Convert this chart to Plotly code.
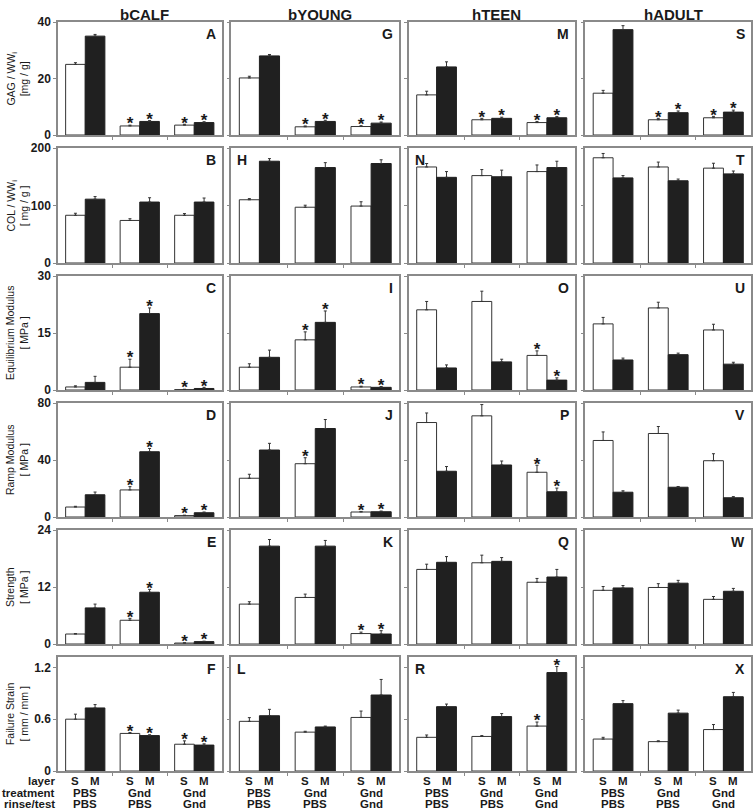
import plotly.graph_objects as go
from plotly.subplots import make_subplots

# Columnas (grupos de edad) y categorias del eje x
COLUMNS = ["bCALF", "bYOUNG", "hTEEN", "hADULT"]
LAYERS = ["S", "M"]
TREATMENT = ["PBS", "Gnd", "Gnd"]
RINSE = ["PBS", "PBS", "Gnd"]
ROW_LABELS = ["layer", "treatment", "rinse/test"]

PANEL_LETTERS = [
    ["A", "G", "M", "S"],
    ["B", "H", "N", "T"],
    ["C", "I", "O", "U"],
    ["D", "J", "P", "V"],
    ["E", "K", "Q", "W"],
    ["F", "L", "R", "X"],
]
LEFT_LETTERS = {"H", "N", "L", "R"}

Y_TITLES = [
    "GAG / WW<sub>i</sub><br>[mg / g]",
    "COL / WW<sub>i</sub><br>[ mg / g ]",
    "Equilibrium Modulus<br>[ MPa ]",
    "Ramp Modulus<br>[ MPa ]",
    "Strength<br>[ MPa ]",
    "Failure Strain<br>[ mm / mm ]",
]
Y_RANGES = [[0, 40], [0, 200], [0, 30], [0, 80], [0, 24], [0, 1.32]]
Y_TICKS = [[0, 20, 40], [0, 100, 200], [0, 15, 30], [0, 40, 80], [0, 12, 24], [0, 0.6, 1.2]]

# Datos: una lista por columna (bCALF, bYOUNG, hTEEN, hADULT), 3 grupos cada una
GAG_S = [[25.0, 3.2, 3.5], [20.2, 2.9, 3.0], [14.2, 5.4, 4.4], [14.8, 5.4, 6.1]]
GAG_S_ERR = [[0.6, 0.3, 0.3], [0.6, 0.3, 0.3], [1.3, 0.5, 0.4], [1.0, 0.5, 0.5]]
GAG_M = [[35.0, 4.8, 4.4], [28.0, 4.8, 4.2], [24.1, 5.9, 6.1], [37.3, 7.9, 8.1]]
GAG_M_ERR = [[0.6, 0.3, 0.3], [0.5, 0.4, 0.4], [1.8, 0.4, 0.4], [1.4, 0.6, 0.7]]
GAG_S_STAR = [[0, 1, 1], [0, 1, 1], [0, 1, 1], [0, 1, 1]]
GAG_M_STAR = [[0, 1, 1], [0, 1, 1], [0, 1, 1], [0, 1, 1]]

COL_S = [[83, 74, 83], [110, 97, 99], [167, 152, 159], [183, 167, 165]]
COL_S_ERR = [[3.5, 3, 3], [2, 3.5, 7.5], [6, 10.5, 11.5], [7.5, 8.5, 8.5]]
COL_M = [[111, 106, 106], [177, 166, 173], [149, 150, 166], [148, 143, 155]]
COL_M_ERR = [[4.5, 7.5, 7], [4.5, 8.5, 6.5], [10, 11.5, 11], [4, 3, 5]]
COL_S_STAR = [[0, 0, 0], [0, 0, 0], [0, 0, 0], [0, 0, 0]]
COL_M_STAR = [[0, 0, 0], [0, 0, 0], [0, 0, 0], [0, 0, 0]]

EQ_S = [[0.8, 6.0, 0.1], [6.0, 13.2, 0.8], [21.1, 23.3, 9.1], [17.4, 21.6, 15.8]]
EQ_S_ERR = [[0.3, 2.1, 0.1], [0.9, 2.1, 0.2], [2.2, 2.7, 1.2], [1.7, 1.5, 1.5]]
EQ_M = [[2.0, 20.1, 0.4], [8.6, 17.8, 0.7], [5.8, 7.4, 2.6], [7.9, 9.3, 6.8]]
EQ_M_ERR = [[1.6, 1.5, 0.3], [1.9, 3.0, 0.2], [0.8, 0.7, 0.6], [0.5, 0.4, 0.5]]
EQ_S_STAR = [[0, 1, 1], [0, 1, 1], [0, 0, 1], [0, 0, 0]]
EQ_M_STAR = [[0, 1, 1], [0, 1, 1], [0, 0, 1], [0, 0, 0]]

RAMP_S = [[7.0, 19.0, 1.0], [27.2, 37.4, 3.5], [66.3, 71.0, 31.4], [53.7, 58.6, 39.5]]
RAMP_S_ERR = [[0.5, 2.3, 0.3], [2.8, 4.2, 0.4], [6.7, 7.9, 4.9], [6.0, 4.9, 4.9]]
RAMP_M = [[15.6, 45.8, 3.0], [47.0, 62.1, 3.7], [32.1, 36.5, 17.7], [17.4, 20.9, 13.5]]
RAMP_M_ERR = [[1.9, 2.3, 0.5], [4.7, 6.3, 0.5], [3.3, 2.8, 2.6], [1.0, 0.5, 0.8]]
RAMP_S_STAR = [[0, 1, 1], [0, 1, 1], [0, 0, 1], [0, 0, 0]]
RAMP_M_STAR = [[0, 1, 1], [0, 0, 1], [0, 0, 1], [0, 0, 0]]

STR_S = [[2.1, 5.0, 0.2], [8.4, 9.8, 2.2], [15.7, 17.1, 13.0], [11.3, 11.9, 9.4]]
STR_S_ERR = [[0.1, 0.4, 0.05], [0.5, 0.7, 0.3], [1.1, 1.6, 0.8], [0.8, 0.8, 0.6]]
STR_M = [[7.6, 10.9, 0.5], [20.6, 20.6, 2.1], [17.2, 17.4, 14.1], [11.8, 12.8, 11.1]]
STR_M_ERR = [[0.8, 0.6, 0.1], [1.4, 1.2, 0.7], [1.2, 0.8, 1.6], [0.5, 0.6, 0.6]]
STR_S_STAR = [[0, 1, 1], [0, 0, 1], [0, 0, 0], [0, 0, 0]]
STR_M_STAR = [[0, 1, 1], [0, 0, 1], [0, 0, 0], [0, 0, 0]]

STRAIN_S = [[0.60, 0.435, 0.31], [0.575, 0.45, 0.62], [0.39, 0.40, 0.52], [0.37, 0.34, 0.48]]
STRAIN_S_ERR = [[0.058, 0.01, 0.039], [0.043, 0.01, 0.074], [0.027, 0.01, 0.047], [0.02, 0.01, 0.058]]
STRAIN_M = [[0.73, 0.41, 0.30], [0.64, 0.51, 0.88], [0.745, 0.63, 1.14], [0.78, 0.67, 0.86]]
STRAIN_M_ERR = [[0.039, 0.01, 0.015], [0.074, 0.01, 0.18], [0.03, 0.035, 0.07], [0.035, 0.035, 0.05]]
STRAIN_S_STAR = [[0, 1, 1], [0, 0, 0], [0, 0, 1], [0, 0, 0]]
STRAIN_M_STAR = [[0, 1, 1], [0, 0, 0], [0, 0, 1], [0, 0, 0]]

MEASURES = [
    (GAG_S, GAG_S_ERR, GAG_M, GAG_M_ERR, GAG_S_STAR, GAG_M_STAR),
    (COL_S, COL_S_ERR, COL_M, COL_M_ERR, COL_S_STAR, COL_M_STAR),
    (EQ_S, EQ_S_ERR, EQ_M, EQ_M_ERR, EQ_S_STAR, EQ_M_STAR),
    (RAMP_S, RAMP_S_ERR, RAMP_M, RAMP_M_ERR, RAMP_S_STAR, RAMP_M_STAR),
    (STR_S, STR_S_ERR, STR_M, STR_M_ERR, STR_S_STAR, STR_M_STAR),
    (STRAIN_S, STRAIN_S_ERR, STRAIN_M, STRAIN_M_ERR, STRAIN_S_STAR, STRAIN_M_STAR),
]

# Geometria (pixeles)
W, H = 755, 811
ML, MR, MT, MB = 58, 2, 22, 40
PW, PH = W - ML - MR, H - MT - MB
COL_PX = [(58, 222), (232, 400), (410, 576), (587, 753)]
ROW_PX = [(22, 135), (148, 263), (276, 390), (403, 517), (530, 644), (657, 771)]

BAR_W = 0.36
FONT = "Liberation Sans, Arial, sans-serif"
TXT = "#1a1a1a"
BORDER = "#8a8a8a"
DARK = "#202020"
LABEL_SIZE = 11.5
LINE_STEP = 11.5


def px_x(p):
    return (p - ML) / PW


def px_y(p):
    return (H - MB - p) / PH


fig = make_subplots(rows=6, cols=4)
groups = list(range(3))
xs_s = [g - BAR_W / 2 for g in groups]
xs_m = [g + BAR_W / 2 for g in groups]

annotations = []
for r, (ms, es, mm, em, ss, sm) in enumerate(MEASURES):
    for c in range(4):
        n = r * 4 + c + 1
        sfx = "" if n == 1 else str(n)
        # Barras S (blancas) y M (negras)
        fig.add_trace(go.Bar(
            x=xs_s, y=ms[c], width=BAR_W,
            marker=dict(color="white", line=dict(color="#333333", width=1)),
            error_y=dict(type="data", array=es[c], arrayminus=[0, 0, 0], symmetric=False,
                         color="#333333", thickness=1, width=1.5),
            showlegend=False), row=r + 1, col=c + 1)
        fig.add_trace(go.Bar(
            x=xs_m, y=mm[c], width=BAR_W,
            marker=dict(color=DARK, line=dict(color=DARK, width=1)),
            error_y=dict(type="data", array=em[c], arrayminus=[0, 0, 0], symmetric=False,
                         color="#333333", thickness=1, width=1.5),
            showlegend=False), row=r + 1, col=c + 1)
        # Asteriscos de significancia
        sx, sy = [], []
        for g in groups:
            if ss[c][g]:
                sx.append(xs_s[g]); sy.append(ms[c][g] + es[c][g])
            if sm[c][g]:
                sx.append(xs_m[g]); sy.append(mm[c][g] + em[c][g])
        if sx:
            fig.add_trace(go.Scatter(
                x=sx, y=sy, mode="text", text=["*"] * len(sx), textposition="middle center",
                textfont=dict(family=FONT, size=17, color=TXT, weight="bold"),
                showlegend=False, hoverinfo="skip"), row=r + 1, col=c + 1)

        x0, x1 = COL_PX[c]
        y0, y1 = ROW_PX[r]
        fig.layout["xaxis" + sfx].update(
            domain=[px_x(x0), px_x(x1)], range=[-0.5, 2.5], showgrid=False, zeroline=False,
            showline=True, mirror=True, linecolor=BORDER, linewidth=1.5,
            tickvals=[0.5, 1.5], showticklabels=False, ticks="outside", ticklen=3,
            tickcolor=BORDER, fixedrange=True)
        fig.layout["yaxis" + sfx].update(
            domain=[px_y(y1), px_y(y0)], range=Y_RANGES[r], tickvals=Y_TICKS[r],
            showgrid=False, zeroline=False, showline=True, mirror=True,
            linecolor=BORDER, linewidth=1.5, ticks="outside", ticklen=3, tickcolor=BORDER,
            showticklabels=(c == 0),
            tickfont=dict(family=FONT, size=12, color=TXT, weight="bold"))

        # Letra del panel
        letter = PANEL_LETTERS[r][c]
        left = letter in LEFT_LETTERS
        annotations.append(dict(
            text="<b>%s</b>" % letter, xref="x%s domain" % sfx, yref="y%s domain" % sfx,
            x=0 if left else 1, y=1, xanchor="left" if left else "right", yanchor="top",
            xshift=4 if left else -4, yshift=-2, showarrow=False,
            font=dict(family=FONT, size=14, color=TXT)))

        # Etiquetas del eje x en la fila inferior
        if r == 5:
            for g in groups:
                for xv, lab in ((xs_s[g], LAYERS[0]), (xs_m[g], LAYERS[1])):
                    annotations.append(dict(
                        text="<b>%s</b>" % lab, xref="x" + sfx, yref="paper", x=xv, y=0,
                        yanchor="middle", yshift=-10, showarrow=False, borderpad=0,
                        font=dict(family=FONT, size=LABEL_SIZE, color=TXT)))
                for k, lab in enumerate((TREATMENT[g], RINSE[g])):
                    annotations.append(dict(
                        text="<b>%s</b>" % lab, xref="x" + sfx, yref="paper", x=g, y=0,
                        yanchor="middle", yshift=-10 - LINE_STEP * (k + 1), showarrow=False,
                        borderpad=0, font=dict(family=FONT, size=LABEL_SIZE, color=TXT)))

    # Titulo del eje y
    y0, y1 = ROW_PX[r]
    annotations.append(dict(
        text=Y_TITLES[r], xref="paper", yref="paper", x=px_x(17), y=px_y((y0 + y1) / 2),
        xanchor="center", yanchor="middle", textangle=-90, showarrow=False,
        font=dict(family=FONT, size=10.5, color=TXT)))

# Etiquetas de filas del eje x
for k, lab in enumerate(ROW_LABELS):
    annotations.append(dict(
        text="<b>%s</b>" % lab, xref="paper", yref="paper", x=px_x(56), y=0,
        xanchor="right", yanchor="middle", yshift=-10 - LINE_STEP * k, showarrow=False,
        borderpad=0, font=dict(family=FONT, size=LABEL_SIZE, color=TXT)))

# Titulos de columna
for c, name in enumerate(COLUMNS):
    x0, x1 = COL_PX[c]
    annotations.append(dict(
        text="<b>%s</b>" % name, xref="paper", yref="paper", x=px_x((x0 + x1) / 2 + 5), y=1,
        xanchor="center", yanchor="middle", yshift=8, showarrow=False,
        font=dict(family=FONT, size=15, color=TXT)))

fig.update_layout(
    width=W, height=H,
    margin=dict(l=ML, r=MR, t=MT, b=MB),
    paper_bgcolor="white", plot_bgcolor="white",
    barmode="overlay", showlegend=False,
    font=dict(family=FONT, color=TXT),
    annotations=annotations,
)

# quitar el margen del body para que la figura llene la ventana
fig.write_html("out.html", config={"displayModeBar": False},
               post_script="document.body.style.margin='0';")
